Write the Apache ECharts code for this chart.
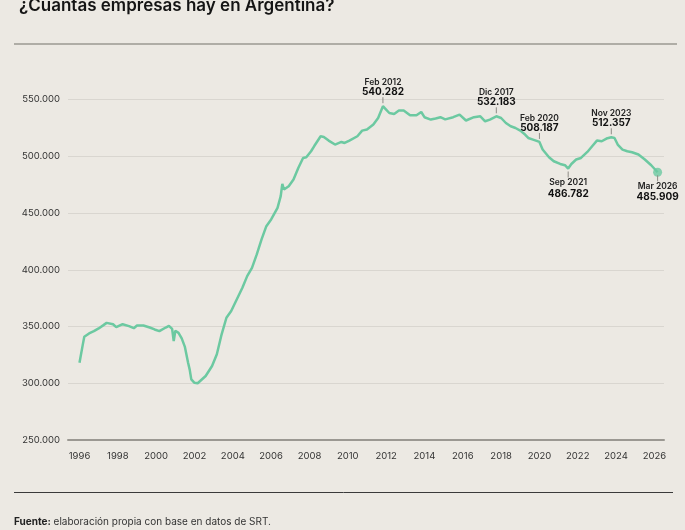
<!DOCTYPE html>
<html>
<head>
<meta charset="utf-8">
<script src="https://cdn.jsdelivr.net/npm/echarts@6/dist/echarts.min.js"></script>
<style>
  html, body { margin: 0; padding: 0; background: #ece9e3; }
  #container { width: 685px; height: 530px; }
</style>
</head>
<body>
<div id="container"></div>
<script>
// datos (en miles de empresas)
var fechas = [
    '1996-01','1996-03','1996-04','1996-07','1996-10','1997-01','1997-04','1997-06','1997-10','1997-12',
    '1998-04','1998-08','1998-11','1999-01','1999-05','1999-09','1999-12','2000-03','2000-07','2000-09',
    '2000-11','2000-12','2001-01','2001-03','2001-05','2001-07','2001-09','2001-10','2001-11','2002-01',
    '2002-03','2002-08','2002-12','2003-03','2003-06','2003-09','2003-12','2004-03','2004-07','2004-10',
    '2005-01','2005-04','2005-07','2005-10','2006-01','2006-05','2006-07','2006-08','2006-09','2006-12',
    '2007-03','2007-06','2007-09','2007-11','2008-02','2008-04','2008-08','2008-10','2009-01','2009-05',
    '2009-09','2009-11','2010-02','2010-07','2010-10','2011-01','2011-05','2011-08','2011-11','2012-01',
    '2012-03','2012-06','2012-09','2012-12','2013-04','2013-08','2013-11','2014-01','2014-05','2014-08',
    '2014-11','2015-02','2015-07','2015-11','2016-03','2016-08','2016-12','2017-03','2017-06','2017-10',
    '2018-01','2018-04','2018-07','2018-10','2019-01','2019-04','2019-06','2019-09','2020-01','2020-03',
    '2020-07','2020-10','2021-02','2021-05','2021-07','2021-09','2021-12','2022-03','2022-07','2022-10',
    '2023-01','2023-04','2023-07','2023-10','2023-12','2024-02','2024-05','2024-08','2024-11','2025-03',
    '2025-07','2025-11','2026-03'
];
var empresas = [
    318.0, 333.6, 340.9, 343.9, 345.9, 348.3, 351.2, 353.2, 352.0, 349.4,
    352.0, 350.3, 348.5, 350.9, 350.9, 349.1, 347.4, 345.9, 349.1, 350.5,
    347.9, 337.1, 346.2, 344.4, 339.5, 332.0, 318.0, 312.0, 303.4, 300.4,
    300.0, 306.4, 315.2, 325.5, 343.1, 357.7, 363.6, 372.4, 384.1, 394.4,
    401.7, 413.5, 426.7, 438.4, 444.3, 454.5, 464.8, 475.7, 470.7, 473.6,
    479.5, 489.7, 498.5, 499.1, 504.4, 509.0, 517.6, 517.0, 513.8, 510.3,
    512.6, 511.7, 513.8, 517.6, 522.6, 523.5, 527.9, 533.7, 544.1, 541.1,
    538.1, 537.3, 540.3, 540.3, 536.1, 536.1, 539.0, 534.4, 532.3, 533.2,
    534.4, 532.5, 534.4, 536.7, 531.5, 534.4, 535.2, 530.8, 532.3, 535.2,
    533.7, 529.3, 526.4, 524.9, 522.6, 519.1, 516.1, 514.7, 512.6, 505.9,
    499.1, 495.6, 493.2, 492.1, 489.2, 493.2, 497.1, 498.5, 503.8, 508.8,
    513.8, 513.2, 515.6, 516.7, 516.1, 510.3, 505.9, 504.4, 503.5, 501.5,
    497.1, 492.1, 485.9
];
var anios = [1996, 1998, 2000, 2002, 2004, 2006, 2008, 2010, 2012, 2014, 2016, 2018, 2020, 2022, 2024, 2026];
var ejeY = [250, 300, 350, 400, 450, 500, 550];

// anotaciones
var notaFechas = ['2011-11', '2017-10', '2020-01', '2021-07', '2023-10', '2026-03'];
var notaTitulo = ['Feb 2012', 'Dic 2017', 'Feb 2020', 'Sep 2021', 'Nov 2023', 'Mar 2026'];
var notaTexto = ['540.282', '532.183', '508.187', '486.782', '512.357', '485.909'];
var notaLado = ['arriba', 'arriba', 'arriba', 'abajo', 'arriba', 'abajo'];

var verde = '#6cc9a1';
var fuente = 'Inter, "Noto Sans", sans-serif';

function aAnio(f) {
    var p = f.split('-');
    return +p[0] + (+p[1] - 1) / 12;
}

var serie = [];
for (var i = 0; i < fechas.length; i++) {
    serie.push([aAnio(fechas[i]), empresas[i]]);
}
var notas = [];
for (var j = 0; j < notaFechas.length; j++) {
    var k = fechas.indexOf(notaFechas[j]);
    notas.push([aAnio(notaFechas[j]), empresas[k]]);
}
var ultimo = serie[serie.length - 1];

function renderNota(params, api) {
    var p = api.coord([api.value(0), api.value(1)]);
    var i = params.dataIndex;
    var s = notaLado[i] === 'abajo' ? 1 : -1;
    return {
        type: 'group',
        children: [{
            type: 'line',
            shape: { x1: p[0], y1: p[1] + s * 3, x2: p[0], y2: p[1] + s * 9 },
            style: { stroke: '#8f8c86', lineWidth: 1 }
        }, {
            type: 'text',
            style: {
                text: notaTitulo[i],
                x: p[0], y: p[1] + (s < 0 ? -24 : 14),
                align: 'center', verticalAlign: 'middle',
                fontFamily: fuente, fontSize: 8.5, fontWeight: 600, fill: '#222'
            }
        }, {
            type: 'text',
            style: {
                text: notaTexto[i],
                x: p[0], y: p[1] + (s < 0 ? -14 : 25),
                align: 'center', verticalAlign: 'middle',
                fontFamily: fuente, fontSize: 10, fontWeight: 700, fill: '#111'
            }
        }]
    };
}

var dom = document.getElementById('container');
var myChart = echarts.init(dom, null, { renderer: 'canvas' });
var option = {
    backgroundColor: '#ece9e3',
    animation: false,
    title: {
        text: '¿Cuántas empresas hay en Argentina?',
        left: 14,
        top: -8,
        textStyle: { fontFamily: fuente, fontSize: 17, fontWeight: 600, color: '#141414' }
    },
    graphic: [{
        type: 'line',
        shape: { x1: 14, y1: 44, x2: 677, y2: 44 },
        style: { stroke: '#9b9892', lineWidth: 1.5 }
    }, {
        type: 'line',
        shape: { x1: 14, y1: 492.5, x2: 673, y2: 492.5 },
        style: { stroke: '#3a3a3a', lineWidth: 1 }
    }, {
        type: 'text',
        left: 14,
        top: 517,
        style: {
            text: '{b|Fuente:} elaboración propia con base en datos de SRT.',
            rich: {
                b: { fontFamily: fuente, fontSize: 10, fontWeight: 700, fill: '#222' }
            },
            fontFamily: fuente, fontSize: 10, fill: '#333'
        }
    }],
    grid: {
        left: 68,
        right: 21,
        top: 99.5,
        bottom: 90
    },
    xAxis: {
        type: 'value',
        min: 1995.4,
        max: 2026.5,
        splitLine: { show: false },
        axisTick: { show: false },
        axisLine: { show: true, lineStyle: { color: '#9b9892', width: 2 } },
        axisLabel: {
            customValues: anios,
            margin: 11,
            fontFamily: fuente,
            fontSize: 9.5,
            color: '#333',
            formatter: function (v) { return String(v); }
        }
    },
    yAxis: {
        type: 'value',
        min: ejeY[0],
        max: ejeY[ejeY.length - 1],
        interval: 50,
        axisLine: { show: false },
        axisTick: { show: false },
        splitLine: { lineStyle: { color: '#d9d6d0', width: 1 } },
        axisLabel: {
            margin: 8,
            fontFamily: fuente,
            fontSize: 9.5,
            color: '#333',
            padding: [0, 0, 6, 0],
            formatter: function (v) { return v.toFixed(3); }
        }
    },
    series: [{
        type: 'line',
        data: serie,
        showSymbol: false,
        lineStyle: { color: verde, width: 2.5 },
        z: 3
    }, {
        type: 'scatter',
        data: [ultimo],
        symbolSize: 9,
        itemStyle: { color: verde },
        z: 4
    }, {
        type: 'custom',
        data: notas,
        renderItem: renderNota,
        encode: { x: 0, y: 1 },
        clip: false,
        z: 5
    }]
};
myChart.setOption(option);
</script>
</body>
</html>
